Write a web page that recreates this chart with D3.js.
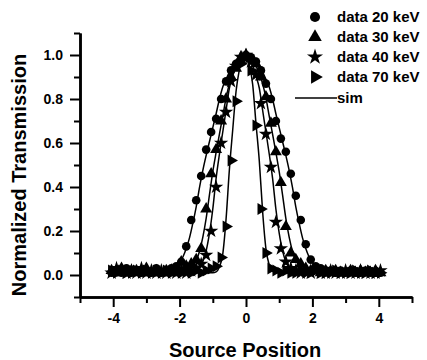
<!DOCTYPE html>
<html><head><meta charset="utf-8">
<script src="https://cdn.jsdelivr.net/npm/d3@7"></script>
<style>
body{margin:0;background:#fff}
svg{display:block}
text{font-family:Arial,"Liberation Sans",sans-serif;font-weight:bold;fill:#000}
</style>
</head><body>
<svg id="chart" width="427" height="360"></svg>
<script>
// ---- data ----
const positions = [-4.05,-3.9,-3.75,-3.6,-3.45,-3.3,-3.15,-3.0,-2.85,-2.7,-2.55,-2.4,-2.25,-2.1,-1.95,-1.8,-1.65,-1.5,-1.35,-1.2,-1.05,-0.9,-0.75,-0.6,-0.45,-0.3,-0.15,0,0.15,0.3,0.45,0.6,0.75,0.9,1.05,1.2,1.35,1.5,1.65,1.8,1.95,2.1,2.25,2.4,2.55,2.7,2.85,3.0,3.15,3.3,3.45,3.6,3.75,3.9,4.05];
const data20 = [0.01,0.02,0.01,0.03,0.01,0.02,0.01,0.02,0.01,0.03,0.01, 0.02,0.03,0.04,0.06,0.13,0.25,0.34,0.45,0.57,0.65,0.71,0.80,0.88,0.93,0.96,0.98, 1.00, 0.99,0.97,0.93,0.87,0.80,0.70,0.62,0.56,0.46,0.36,0.25,0.14,0.07,0.04,0.03,0.02, 0.02,0.01,0.02,0.01,0.02,0.01,0.01,0.02,0.01,0.01,0.01];
const data30 = [0.02,0.01,0.03,0.01,0.02,0.02,0.01,0.03,0.01,0.02,0.01, 0.02,0.01,0.02,0.06,0.04,0.05,0.07,0.12,0.30,0.46,0.57,0.70,0.80,0.90,0.94,0.99, 1.00, 0.98,0.96,0.90,0.81,0.69,0.56,0.42,0.22,0.10,0.07,0.05,0.03,0.02,0.02,0.01,0.02, 0.01,0.02,0.01,0.01,0.02,0.01,0.02,0.01,0.01,0.02,0.01];
const data40 = [0.01,0.03,0.02,0.01,0.02,0.01,0.03,0.01,0.02,0.01,0.02, 0.01,0.02,0.01,0.02,0.01,0.02,0.03,0.05,0.09,0.20,0.40,0.60,0.74,0.88,0.95,0.99, 1.00, 0.97,0.91,0.78,0.64,0.49,0.24,0.12,0.06,0.03,0.02,0.01,0.02,0.01,0.02,0.01,0.01, 0.02,0.01,0.01,0.02,0.01,0.01,0.02,0.01,0.01,0.01,0.02];
const data70 = [0.02,0.01,0.02,0.01,0.01,0.02,0.01,0.02,0.01,0.02,0.01, 0.02,0.01,0.02,0.01,0.02,0.01,0.02,0.01,0.02,0.03,0.04,0.08,0.22,0.52,0.79,0.96, 0.99, 0.93,0.68,0.30,0.10,0.03,0.02,0.01,0.02,0.01,0.01,0.02,0.01,0.01,0.02,0.01,0.01, 0.01,0.02,0.01,0.01,0.01,0.02,0.01,0.01,0.02,0.01,0.01];

const simX = [-2.6,-2.5,-2.4,-2.3,-2.2,-2.1,-2.0,-1.9,-1.8,-1.7,-1.6,-1.5,-1.4,-1.3,-1.2,-1.1,-1.0,-0.9,-0.8,-0.7,-0.6,-0.5,-0.4,-0.3,-0.2,-0.1,0,0.1,0.2,0.3,0.4,0.5,0.6,0.7,0.8,0.9,1.0,1.1,1.2,1.3,1.4,1.5,1.6,1.7,1.8,1.9,2.0,2.1,2.2,2.3,2.4,2.5,2.6];
const sim20 = [0.01,0.011,0.015,0.02,0.03,0.042,0.057,0.082,0.12,0.17,0.236,0.31,0.398,0.476,0.544,0.607,0.67,0.733,0.80,0.855,0.89,0.922,0.95,0.97,0.987,0.997,1.0,0.997,0.987,0.97,0.95,0.922,0.89,0.855,0.80,0.733,0.67,0.607,0.544,0.476,0.398,0.31,0.236,0.17,0.12,0.082,0.057,0.042,0.03,0.02,0.015,0.011,0.01];
const sim30 = [0.01,0.01,0.01,0.01,0.01,0.01,0.01,0.012,0.018,0.027,0.043,0.066,0.108,0.172,0.257,0.365,0.47,0.557,0.64,0.722,0.805,0.87,0.915,0.952,0.979,0.995,1.0,0.995,0.979,0.952,0.915,0.87,0.805,0.722,0.64,0.557,0.47,0.365,0.257,0.172,0.108,0.066,0.043,0.027,0.018,0.012,0.01,0.01,0.01,0.01,0.01,0.01,0.01];
const sim40 = [0.01,0.01,0.01,0.01,0.01,0.01,0.01,0.01,0.01,0.01,0.013,0.02,0.037,0.062,0.11,0.19,0.30,0.44,0.55,0.65,0.75,0.85,0.905,0.952,0.982,0.998,0.998,0.982,0.952,0.905,0.85,0.75,0.65,0.55,0.44,0.30,0.19,0.11,0.062,0.037,0.02,0.013,0.01,0.01,0.01,0.01,0.01,0.01,0.01,0.01,0.01,0.01,0.01];
const sim70 = [0.01,0.01,0.01,0.01,0.01,0.01,0.01,0.01,0.01,0.01,0.01,0.01,0.01,0.01,0.01,0.01,0.01,0.014,0.037,0.095,0.255,0.48,0.66,0.834,0.934,0.993,0.996,0.952,0.868,0.69,0.52,0.29,0.12,0.045,0.017,0.01,0.01,0.01,0.01,0.01,0.01,0.01,0.01,0.01,0.01,0.01,0.01,0.01,0.01,0.01,0.01,0.01,0.01];

const seriesNames = ["data 20 keV","data 30 keV","data 40 keV","data 70 keV"];
const xMajorTicks = [-4,-2,0,2,4];
const xMinorTicks = [-5,-3,-1,1,3,5];
const yMajorTicks = [0,0.2,0.4,0.6,0.8,1.0];
const yMinorTicks = [-0.1,0.1,0.3,0.5,0.7,0.9,1.1];
const xTitle = "Source Position";
const yTitle = "Normalized Transmission";

// ---- chart ----
const svg = d3.select("#chart");
const x = d3.scaleLinear().domain([-5,5]).range([80,412]);
const y = d3.scaleLinear().domain([-0.1,1.1]).range([297,33]);

const rightTri = {draw(ctx,size){const s=Math.sqrt(size/ (Math.sqrt(3)/4));const h=s*Math.sqrt(3)/2;ctx.moveTo(h*2/3,0);ctx.lineTo(-h/3,-s/2);ctx.lineTo(-h/3,s/2);ctx.closePath();}};
const symbols = [d3.symbolCircle, d3.symbolTriangle, d3.symbolStar, rightTri];
const sizes = [58,62,64,62];
const dataSets = [data20,data30,data40,data70];
const sims = [sim20,sim30,sim40,sim70];

// axes
function styleAxis(g){
  g.select(".domain").attr("stroke","#000").attr("stroke-width",2.5);
  g.selectAll(".tick line").attr("stroke","#000").attr("stroke-width",2);
  g.selectAll("text").attr("font-size",14).attr("font-weight","bold").attr("font-family","Arial, 'Liberation Sans', sans-serif").attr("fill","#000");
}
const fmtX = d => String(d);
const fmtY = d => d.toFixed(1);
svg.append("g").attr("transform","translate(0,297)")
  .call(d3.axisBottom(x).tickValues(xMinorTicks).tickSize(6).tickSizeOuter(0).tickFormat(""))
  .call(styleAxis);
svg.append("g").attr("transform","translate(0,297)")
  .call(d3.axisBottom(x).tickValues(xMajorTicks).tickSize(10).tickSizeOuter(0).tickPadding(6).tickFormat(fmtX))
  .call(styleAxis);
svg.append("g").attr("transform","translate(80,0)")
  .call(d3.axisLeft(y).tickValues(yMinorTicks).tickSize(6).tickSizeOuter(0).tickFormat(""))
  .call(styleAxis);
svg.append("g").attr("transform","translate(80,0)")
  .call(d3.axisLeft(y).tickValues(yMajorTicks).tickSize(10).tickSizeOuter(0).tickPadding(7).tickFormat(fmtY))
  .call(styleAxis);

// sim lines
const line = d3.line().x((d,i)=>x(simX[i])).y(d=>y(d)).curve(d3.curveMonotoneX);
sims.forEach(s=>{
  svg.append("path").datum(s).attr("d",line).attr("fill","none").attr("stroke","#000").attr("stroke-width",1.5);
});

// markers
dataSets.forEach((ds,si)=>{
  const sym = d3.symbol().type(symbols[si]).size(sizes[si]);
  svg.append("g").selectAll("path").data(ds).join("path")
    .attr("d",sym)
    .attr("transform",(d,i)=>`translate(${x(positions[i])},${y(d)})`)
    .attr("fill","#000");
});

// legend
const lg = svg.append("g");
seriesNames.forEach((n,i)=>{
  const yy = 17 + i*20;
  lg.append("path").attr("d",d3.symbol().type(symbols[i]).size(80)()).attr("transform",`translate(315,${yy})`).attr("fill","#000");
  lg.append("text").attr("x",337).attr("y",yy+5).attr("font-size",15).text(n);
});
lg.append("line").attr("x1",295).attr("x2",337).attr("y1",98).attr("y2",98).attr("stroke","#000").attr("stroke-width",1.5);
lg.append("text").attr("x",337).attr("y",103).attr("font-size",15).text("sim");

// titles
svg.append("text").attr("x",245).attr("y",357).attr("text-anchor","middle").attr("font-size",20).text(xTitle);
svg.append("text").attr("transform","translate(26,175) rotate(-90)").attr("text-anchor","middle").attr("font-size",20).text(yTitle);
</script>
</body></html>
